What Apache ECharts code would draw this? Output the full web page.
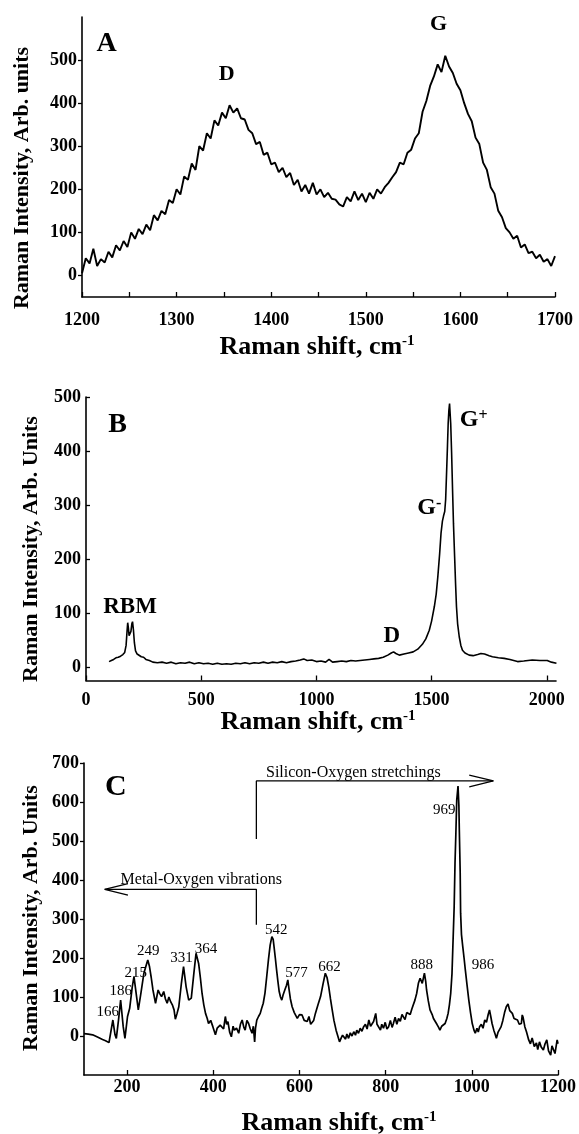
<!DOCTYPE html>
<html><head><meta charset="utf-8">
<script src="https://cdn.jsdelivr.net/npm/echarts@6/dist/echarts.min.js"></script>
<style>html,body{margin:0;padding:0;background:#fff}#c{width:579px;height:1134px}</style>
</head><body><div id="c"></div>
<script>
// ---------- Panel A ----------
const shiftA = [1200,1204,1208,1212,1216,1220,1224,1228,1232,1236,1240,1244,1248,1252,1256,1260,1264,1268,1272,1276,1280,1284,1288,1292,1296,1300,1304,1308,1312,1316,1320,1324,1328,1332,1336,1340,1344,1348,1352,1356,1360,1364,1368,1372,1376,1380,1384,1388,1392,1396,1400,1404,1408,1412,1416,1420,1424,1428,1432,1436,1440,1444,1448,1452,1456,1460,1464,1468,1472,1476,1480,1484,1488,1492,1496,1500,1504,1508,1512,1516,1520,1524,1528,1532,1536,1540,1544,1548,1552,1556,1560,1564,1568,1572,1576,1580,1584,1588,1592,1596,1600,1604,1608,1612,1616,1620,1624,1628,1632,1636,1640,1644,1648,1652,1656,1660,1664,1668,1672,1676,1680,1684,1688,1692,1696,1700];
const intensityA = [5,40,28,62,22,38,30,55,42,70,58,80,66,100,85,108,96,118,105,140,128,150,142,175,168,200,188,230,222,260,245,300,290,330,318,360,348,378,365,395,378,388,365,362,338,330,305,310,280,285,258,262,240,250,228,238,210,222,195,210,190,215,188,200,182,192,178,176,165,160,182,172,195,175,190,170,192,178,200,190,205,215,228,240,262,258,285,292,318,330,380,405,440,462,490,472,510,485,470,445,430,400,375,358,320,305,262,245,205,190,150,135,110,100,85,92,65,72,52,55,40,48,32,38,22,45];
const ticksXA = [1200,1250,1300,1350,1400,1450,1500,1550,1600,1650,1700];
const labelsXA = [1200,1300,1400,1500,1600,1700];
const labelsYA = [0,100,200,300,400,500];
const annTextA = ['A','D','G'];
const annPosA = [[1226,538],[1353,466],[1577,582]];

// ---------- Panel B ----------
const shiftB = [100,110,120,130,140,150,160,168,174,178,181,184,187,191,195,199,202,206,210,215,222,230,240,250,260,275,290,310,330,350,370,390,410,430,450,470,490,510,530,550,570,590,610,630,650,670,690,710,730,750,770,790,810,830,850,870,890,910,930,945,960,980,1000,1020,1040,1055,1070,1090,1110,1130,1150,1170,1190,1210,1230,1250,1270,1290,1310,1325,1335,1345,1360,1380,1400,1420,1440,1460,1475,1490,1500,1512,1520,1527,1535,1541,1547,1552,1557,1561,1565,1569,1572,1575,1578,1580,1583,1587,1591,1595,1600,1604,1608,1613,1620,1627,1634,1645,1663,1680,1700,1714,1730,1750,1764,1790,1815,1840,1873,1900,1937,1970,2002,2020,2042];
const intensityB = [10,12,14,17,18,20,23,27,40,65,82,72,58,55,66,80,84,68,45,30,24,22,19,18,14,12,9,8,9,7,9,6,8,7,9,6,8,6,7,5,7,5,6,5,7,6,8,6,8,7,9,7,9,8,10,8,10,11,13,15,12,13,10,11,9,14,9,10,11,10,12,11,12,13,14,15,16,18,22,26,28,25,22,24,26,28,33,42,52,68,85,112,135,167,210,248,270,280,288,310,359,410,451,475,488,485,451,395,328,265,204,155,112,80,56,40,31,26,22,21,23,25,24,21,19,17,16,14,10,11,13,12,12,9,7];
const labelsXB = [0,500,1000,1500,2000];
const labelsYB = [0,100,200,300,400,500];
const annTextB = ['B','RBM','D','{m|G}{s|-}','{m|G}{s|+}'];
const annPosB = [[137,448],[191,111],[1327,57],[1490,294],[1683,457]];

// ---------- Panel C ----------
const shiftC = [100,110,120,130,143,150,158,162,167,172,175,180,185,191,195,201,206,212,216,222,226,232,239,244,248,252,256,260,266,272,276,280,285,289,293,297,301,305,309,312,316,320,326,331,337,343,349,355,360,366,370,374,378,382,386,389,394,399,405,409,412,416,420,424,428,431,434,438,442,446,449,454,459,463,467,471,474,478,482,486,490,493,496,498,501,505,509,512,516,520,524,528,532,536,539,541,544,547,550,553,556,559,562,566,570,573,576,579,583,588,595,600,606,611,618,622,626,630,633,637,643,649,655,660,664,668,672,676,680,685,689,693,697,700,703,707,710,714,718,722,726,730,733,737,741,745,749,753,757,761,765,769,772,777,780,784,788,791,795,799,803,807,811,815,818,822,826,830,834,838,841,845,849,853,857,861,864,868,872,876,880,885,890,893,895,899,903,908,911,915,919,923,926,930,934,938,942,945,948,951,954,956,959,961,963,965,968,970,971,973,974,976,979,982,985,989,993,997,1001,1005,1008,1012,1015,1018,1022,1026,1030,1034,1038,1041,1044,1047,1051,1054,1057,1061,1064,1068,1072,1076,1080,1084,1088,1094,1098,1102,1106,1110,1115,1117,1119,1123,1127,1132,1136,1140,1145,1150,1153,1157,1161,1166,1170,1174,1178,1183,1186,1190,1193,1196,1198,1200];
const intensityC = [6,5,3,-2,-9,-12,-17,-19,41,3,-6,40,92,24,-6,50,71,126,152,101,67,109,161,180,195,178,150,118,84,118,108,101,114,95,84,100,88,80,67,43,58,75,135,178,126,92,97,161,212,186,150,109,80,58,45,32,40,24,3,20,15,28,32,18,50,30,37,10,-2,25,15,20,7,30,41,22,15,40,32,18,7,25,-15,20,41,50,58,70,84,110,152,195,233,255,248,229,200,169,140,114,100,92,105,118,130,144,118,95,75,60,45,55,54,40,37,50,30,28,40,58,80,101,135,161,150,126,95,67,40,15,0,-15,-5,2,-2,-8,5,-6,8,0,11,2,15,7,20,12,24,30,18,41,25,30,37,58,30,28,15,30,20,35,18,24,40,22,32,48,30,45,38,55,50,42,60,58,55,70,75,92,109,135,148,135,161,140,118,90,67,55,45,41,30,22,15,25,20,32,45,58,80,109,160,229,330,443,520,605,641,590,528,420,315,260,229,200,169,130,92,60,32,15,7,20,10,24,30,20,41,35,55,67,50,32,15,5,-6,10,15,24,40,60,75,82,65,58,45,50,41,30,32,54,48,24,10,-10,-20,-5,-27,-18,-35,-15,-28,-36,-20,-10,-38,-49,-25,-27,-45,-40,-10,-20];
const labelsXC = [200,400,600,800,1000,1200];
const labelsYC = [0,100,200,300,400,500,600,700];
const peakTextC = ['166','186','215','249','331','364','542','577','662','888','969','986'];
const peakPosC = [[155,62],[185,114],[220,162],[249,219],[326,200],[383,223],[546,272],[593,161],[670,178],[884,182],[936,579],[1026,182]];
const panelPosC = [174,638];
const arrowTextC = ['Metal-Oxygen vibrations','Silicon-Oxygen stretchings'];
const arrowTextPosC = [[372,400],[725,676]];
const metalArrow = [[500,285],[500,376],[148,376]];
const metalHead = [[202,391],[148,376],[202,361]];
const siliconArrow = [[500,505],[500,654],[1050,654]];
const siliconHead = [[994,669],[1050,654],[994,639]];

// ---------- build ----------
const SERIF = "'Liberation Serif','Times New Roman',serif";
const zip = (xs, ys) => xs.map((x, i) => [x, ys[i]]);
const keep = list => v => list.includes(v) ? String(v) : '';

function xAx(g, min, max, interval, labels, ticks, margin) {
  return {
    gridIndex: g, type: 'value', min, max, interval,
    axisLine: {onZero: false, lineStyle: {color: '#000', width: 1.6}},
    axisTick: {show: true, inside: true, length: 5, customValues: ticks, lineStyle: {color: '#000', width: 1.3}},
    axisLabel: {customValues: labels, formatter: keep(labels), margin, color: '#000',
      fontFamily: SERIF, fontWeight: 'bold', fontSize: 18},
    splitLine: {show: false}
  };
}
function yAx(g, min, max, interval, labels, inside) {
  return {
    gridIndex: g, type: 'value', min, max, interval,
    axisLine: {onZero: false, lineStyle: {color: '#000', width: 1.6}},
    axisTick: {show: true, inside, length: 4, customValues: labels, lineStyle: {color: '#000', width: 1.3}},
    axisLabel: {customValues: labels, formatter: keep(labels), margin: 5, color: '#000',
      fontFamily: SERIF, fontWeight: 'bold', fontSize: 18},
    splitLine: {show: false}
  };
}
const lineS = (i, data, w) => ({
  type: 'line', xAxisIndex: i, yAxisIndex: i, data, symbol: 'none', silent: true,
  lineStyle: {color: '#000', width: w}, animation: false, z: 3
});
const richSup = {
  m: {fontFamily: SERIF, fontWeight: 'bold', fontSize: 24, color: '#000', verticalAlign: 'bottom'},
  s: {fontFamily: SERIF, fontWeight: 'bold', fontSize: 16, color: '#000', verticalAlign: 'top'}
};
function labelS(i, texts, pos, sizes, bold) {
  return {
    type: 'scatter', xAxisIndex: i, yAxisIndex: i, symbolSize: 0, silent: true, animation: false,
    itemStyle: {color: '#000', opacity: 1}, z: 5,
    data: texts.map((t, k) => ({
      name: t, value: pos[k],
      label: {show: true, position: 'inside', formatter: () => t, color: '#000', opacity: 1,
        textBorderWidth: 0, fontFamily: SERIF, fontWeight: bold[k] ? 'bold' : 'normal',
        fontSize: sizes[k], rich: richSup}
    }))
  };
}

const chart = echarts.init(document.getElementById('c'), null, {renderer: 'canvas'});
const option = {
  backgroundColor: '#fff',
  animation: false,
  grid: [
    {left: 82, top: 17, width: 473, height: 280},
    {left: 86, top: 397, width: 470, height: 283.5},
    {left: 84, top: 763, width: 476, height: 312}
  ],
  xAxis: [
    xAx(0, 1200, 1700, 50, labelsXA, ticksXA, 14),
    xAx(1, 0, 2040, 500, labelsXB, labelsXB, 11),
    xAx(2, 100, 1200, 100, labelsXC, labelsXC, 3)
  ],
  yAxis: [
    yAx(0, -50, 600, 50, labelsYA, false),
    yAx(1, -25, 500, 25, labelsYB, true),
    yAx(2, -100, 700, 100, labelsYC, false)
  ],
  series: [
    lineS(0, zip(shiftA, intensityA), 1.9),
    lineS(1, zip(shiftB, intensityB), 1.6),
    lineS(2, zip(shiftC, intensityC), 1.7),
    lineS(2, metalArrow, 1.3),
    lineS(2, metalHead, 1.3),
    lineS(2, siliconArrow, 1.3),
    lineS(2, siliconHead, 1.3),
    labelS(0, annTextA, annPosA, [28, 22, 22], [1, 1, 1]),
    labelS(1, annTextB, annPosB, [28, 23, 23, 24, 24], [1, 1, 1, 1, 1]),
    labelS(2, ['C'], [panelPosC], [30], [1]),
    labelS(2, peakTextC, peakPosC, peakTextC.map(() => 15), peakTextC.map(() => 0)),
    labelS(2, arrowTextC, arrowTextPosC, [16, 16], [0, 0])
  ],
  graphic: [
    {type: 'text', x: 22, y: 178, rotation: Math.PI / 2, style: {text: 'Raman Intensity, Arb. units', font: 'bold 22px ' + SERIF, fill: '#000', align: 'center', verticalAlign: 'middle'}},
    {type: 'text', x: 31, y: 549, rotation: Math.PI / 2, style: {text: 'Raman Intensity, Arb. Units', font: 'bold 22px ' + SERIF, fill: '#000', align: 'center', verticalAlign: 'middle'}},
    {type: 'text', x: 31, y: 918, rotation: Math.PI / 2, style: {text: 'Raman Intensity, Arb. Units', font: 'bold 22px ' + SERIF, fill: '#000', align: 'center', verticalAlign: 'middle'}},
    ...[[317, 347], [318, 722], [339, 1123]].map(p => ({
      type: 'text', x: p[0], y: p[1],
      style: {text: '{m|Raman shift, cm}{s|-1}', align: 'center', verticalAlign: 'middle', fill: '#000',
        rich: {m: {font: 'bold 26px ' + SERIF, fill: '#000', verticalAlign: 'bottom'},
               s: {font: 'bold 15px ' + SERIF, fill: '#000', verticalAlign: 'top'}}}
    }))
  ]
};
chart.setOption(option);
</script>
</body></html>
